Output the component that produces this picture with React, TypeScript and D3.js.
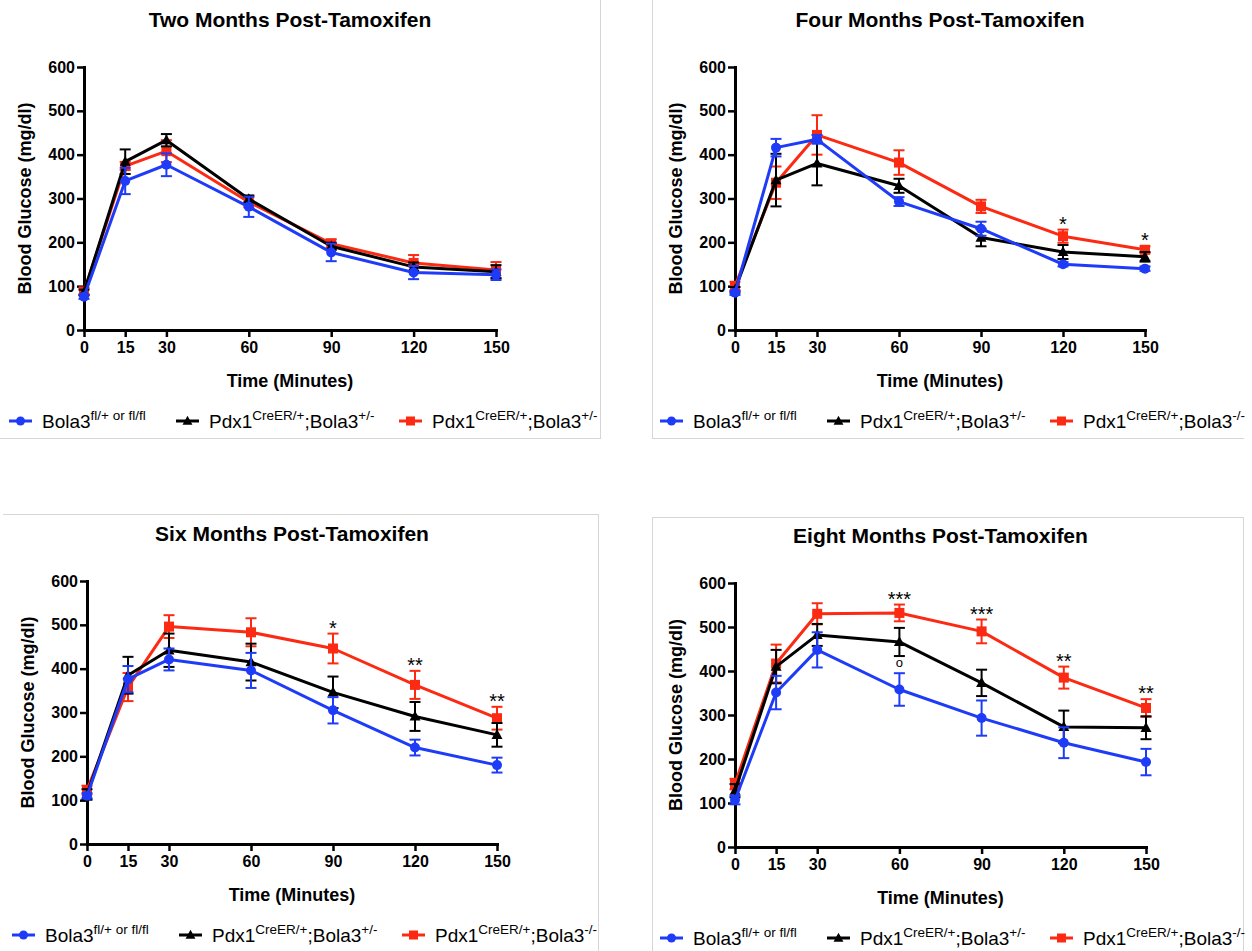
import React, { useEffect, useRef } from 'react';
import * as d3 from 'd3';

// Sampling times (minutes after glucose injection)
const minutes = [0, 15, 30, 60, 90, 120, 150];
const yTicks = [0, 100, 200, 300, 400, 500, 600];

// Two months post-tamoxifen: mean and SEM, mg/dl
const twoCtrl = [76, 340, 377, 281, 177, 131, 126];
const twoCtrlSem = [5, 30, 26, 23, 20, 15, 12];
const twoHet = [86, 384, 433, 299, 191, 144, 133];
const twoHetSem = [6, 28, 14, 8, 8, 10, 15];
const twoKo = [88, 374, 408, 292, 197, 153, 137];
const twoKoSem = [8, 9, 25, 12, 10, 18, 18];

// Four months post-tamoxifen
const fourCtrl = [85, 416, 435, 293, 231, 150, 140];
const fourCtrlSem = [5, 20, 10, 10, 16, 5, 5];
const fourHet = [92, 342, 380, 329, 211, 178, 167];
const fourHetSem = [6, 60, 50, 16, 20, 16, 11];
const fourKo = [100, 336, 445, 382, 282, 214, 183];
const fourKoSem = [10, 37, 45, 28, 15, 15, 8];

// Six months post-tamoxifen
const sixCtrl = [110, 376, 421, 396, 305, 220, 180];
const sixCtrlSem = [6, 30, 25, 40, 30, 18, 17];
const sixHet = [113, 385, 442, 415, 346, 291, 249];
const sixHetSem = [12, 42, 38, 42, 36, 33, 27];
const sixKo = [123, 358, 496, 483, 446, 363, 287];
const sixKoSem = [10, 32, 26, 32, 34, 32, 26];

// Eight months post-tamoxifen
const eightCtrl = [107, 351, 448, 358, 293, 237, 193];
const eightCtrlSem = [10, 38, 40, 37, 40, 35, 30];
const eightHet = [128, 410, 482, 466, 373, 273, 271];
const eightHetSem = [15, 38, 25, 32, 30, 37, 26];
const eightKo = [143, 417, 530, 532, 490, 385, 316];
const eightKoSem = [12, 43, 24, 19, 27, 25, 20];

// Significance marks (knockout vs control) and het-vs-control mark
const fourStars = [{ t: 120, label: '*' }, { t: 150, label: '*' }];
const sixStars = [{ t: 90, label: '*' }, { t: 120, label: '**' }, { t: 150, label: '**' }];
const eightStars = [
  { t: 60, label: '***' },
  { t: 90, label: '***' },
  { t: 120, label: '**' },
  { t: 150, label: '**' },
];
const eightHetMarks = [{ t: 60, label: 'o' }];

const titles = [
  'Two Months Post-Tamoxifen',
  'Four Months Post-Tamoxifen',
  'Six Months Post-Tamoxifen',
  'Eight Months Post-Tamoxifen',
];

const BLUE = '#1e3cf8';
const RED = '#fc2a12';
const BLACK = '#000000';
const FONT = "'Liberation Sans', Arial, Helvetica, sans-serif";

type Sup = { main: string; sup?: string }[];
const legendCtrl: Sup = [{ main: 'Bola3', sup: 'fl/+ or fl/fl' }];
const legendHet: Sup = [{ main: 'Pdx1', sup: 'CreER/+' }, { main: ';Bola3', sup: '+/-' }];
const legendKo: Sup = [{ main: 'Pdx1', sup: 'CreER/+' }, { main: ';Bola3', sup: '-/-' }];

type Series = { mean: number[]; sem: number[]; color: string; shape: string; legend: Sup };

const panels = [
  {
    title: titles[0],
    x0: 84, x1: 496, yTop: 67, yBot: 330,
    series: [
      { mean: twoKo, sem: twoKoSem, color: RED, shape: 'square', legend: legendHet },
      { mean: twoHet, sem: twoHetSem, color: BLACK, shape: 'triangle', legend: legendHet },
      { mean: twoCtrl, sem: twoCtrlSem, color: BLUE, shape: 'circle', legend: legendCtrl },
    ] as Series[],
    stars: [] as { t: number; label: string }[],
    hetMarks: [] as { t: number; label: string }[],
    border: [[600.5, 0, 600.5, 438.5], [0, 438.5, 601, 438.5]],
  },
  {
    title: titles[1],
    x0: 735, x1: 1145, yTop: 67, yBot: 330,
    series: [
      { mean: fourKo, sem: fourKoSem, color: RED, shape: 'square', legend: legendKo },
      { mean: fourHet, sem: fourHetSem, color: BLACK, shape: 'triangle', legend: legendHet },
      { mean: fourCtrl, sem: fourCtrlSem, color: BLUE, shape: 'circle', legend: legendCtrl },
    ] as Series[],
    stars: fourStars,
    hetMarks: [] as { t: number; label: string }[],
    border: [[652.5, 0, 652.5, 438.5], [652, 438.5, 1244, 438.5]],
  },
  {
    title: titles[2],
    x0: 87, x1: 497, yTop: 581, yBot: 844,
    series: [
      { mean: sixKo, sem: sixKoSem, color: RED, shape: 'square', legend: legendKo },
      { mean: sixHet, sem: sixHetSem, color: BLACK, shape: 'triangle', legend: legendHet },
      { mean: sixCtrl, sem: sixCtrlSem, color: BLUE, shape: 'circle', legend: legendCtrl },
    ] as Series[],
    stars: sixStars,
    hetMarks: [] as { t: number; label: string }[],
    border: [[3, 514.5, 598, 514.5], [598.5, 514, 598.5, 951]],
  },
  {
    title: titles[3],
    x0: 735, x1: 1146, yTop: 583, yBot: 847,
    series: [
      { mean: eightKo, sem: eightKoSem, color: RED, shape: 'square', legend: legendKo },
      { mean: eightHet, sem: eightHetSem, color: BLACK, shape: 'triangle', legend: legendHet },
      { mean: eightCtrl, sem: eightCtrlSem, color: BLUE, shape: 'circle', legend: legendCtrl },
    ] as Series[],
    stars: eightStars,
    hetMarks: eightHetMarks,
    border: [[652, 517.5, 1244, 517.5], [652.5, 517, 652.5, 951], [1243.5, 517, 1243.5, 951]],
  },
];

function drawMarker(g: d3.Selection<SVGGElement, unknown, null, undefined>, shape: string, x: number, y: number, color: string, s = 1) {
  if (shape === 'circle') {
    g.append('circle').attr('cx', x).attr('cy', y).attr('r', 5 * s).attr('fill', color);
  } else if (shape === 'square') {
    const h = 5 * s;
    g.append('rect').attr('x', x - h).attr('y', y - h).attr('width', 2 * h).attr('height', 2 * h).attr('fill', color);
  } else {
    const h = 5.5 * s;
    g.append('path')
      .attr('d', `M${x},${y - h * 1.05}L${x + h},${y + h * 0.75}L${x - h},${y + h * 0.75}Z`)
      .attr('fill', color);
  }
}

// Main text with raised superscripts; each run shifts back down before the next one
function writeRich(t: d3.Selection<SVGTextElement, unknown, null, undefined>, parts: Sup) {
  let back = 0;
  parts.forEach((p) => {
    const m = t.append('tspan').attr('font-size', 19).text(p.main);
    if (back) m.attr('dy', back);
    back = 0;
    if (p.sup) {
      t.append('tspan').attr('font-size', 13.5).attr('dy', -8).text(p.sup);
      back = 8;
    }
  });
}

export default function App() {
  const ref = useRef<SVGSVGElement | null>(null);

  useEffect(() => {
    const svg = d3.select(ref.current);
    svg.selectAll('*').remove();
    svg.append('rect').attr('width', 1252).attr('height', 951).attr('fill', '#fff');

    panels.forEach((p) => {
      const g = svg.append('g');
      const x = d3.scaleLinear().domain([0, 150]).range([p.x0, p.x1]);
      const y = d3.scaleLinear().domain([0, 600]).range([p.yBot, p.yTop]);
      const cx = (p.x0 + p.x1) / 2;

      // panel frame
      p.border.forEach((b) => {
        g.append('line').attr('x1', b[0]).attr('y1', b[1]).attr('x2', b[2]).attr('y2', b[3])
          .attr('stroke', '#d6d6d6').attr('stroke-width', 1);
      });

      // title
      g.append('text').attr('x', cx).attr('y', p.yTop - 40.5).attr('text-anchor', 'middle')
        .attr('font-family', FONT).attr('font-weight', 'bold').attr('font-size', 21).text(p.title);

      // axes
      const yAxis = d3.axisLeft(y).tickValues(yTicks).tickSize(7).tickSizeOuter(0).tickPadding(2);
      const xAxis = d3.axisBottom(x).tickValues(minutes).tickSize(7).tickSizeOuter(0).tickPadding(5);
      const ya = g.append('g').attr('transform', `translate(${p.x0},0)`).call(yAxis);
      const xa = g.append('g').attr('transform', `translate(0,${p.yBot})`).call(xAxis);
      [ya, xa].forEach((a) => {
        a.select('.domain').attr('stroke', '#000').attr('stroke-width', 3).attr('stroke-linecap', 'square');
        a.selectAll('.tick line').attr('stroke', '#000').attr('stroke-width', 2.5);
        a.selectAll('.tick text').attr('fill', '#000').attr('font-family', FONT)
          .attr('font-weight', 'bold').attr('font-size', 16);
      });

      // axis titles
      g.append('text').attr('x', cx).attr('y', p.yBot + 56.5).attr('text-anchor', 'middle')
        .attr('font-family', FONT).attr('font-weight', 'bold').attr('font-size', 18).text('Time (Minutes)');
      g.append('text')
        .attr('transform', `translate(${p.x0 - 53.5},${(p.yTop + p.yBot) / 2}) rotate(-90)`)
        .attr('text-anchor', 'middle').attr('font-family', FONT).attr('font-weight', 'bold')
        .attr('font-size', 18).text('Blood Glucose (mg/dl)');

      // data series
      const line = d3.line<number>().x((_, i) => x(minutes[i])).y((d) => y(d));
      p.series.forEach((s) => {
        const sg = g.append('g');
        sg.append('path').attr('d', line(s.mean)).attr('fill', 'none').attr('stroke', s.color)
          .attr('stroke-width', 3).attr('stroke-linejoin', 'round');
        s.mean.forEach((m, i) => {
          const xx = x(minutes[i]);
          const hi = y(m + s.sem[i]);
          const lo = y(m - s.sem[i]);
          sg.append('line').attr('x1', xx).attr('x2', xx).attr('y1', hi).attr('y2', lo)
            .attr('stroke', s.color).attr('stroke-width', 2);
          [hi, lo].forEach((yy) => {
            sg.append('line').attr('x1', xx - 5.5).attr('x2', xx + 5.5).attr('y1', yy).attr('y2', yy)
              .attr('stroke', s.color).attr('stroke-width', 2);
          });
          drawMarker(sg, s.shape, xx, y(m), s.color);
        });
      });

      // significance marks above the knockout series
      const ko = p.series[0];
      p.stars.forEach((st) => {
        const i = minutes.indexOf(st.t);
        g.append('text').attr('x', x(st.t)).attr('y', y(ko.mean[i] + ko.sem[i]) + 1)
          .attr('text-anchor', 'middle').attr('font-family', FONT).attr('font-size', 20).text(st.label);
      });
      // het-vs-control marks below the het series
      const het = p.series[1];
      p.hetMarks.forEach((st) => {
        const i = minutes.indexOf(st.t);
        g.append('text').attr('x', x(st.t)).attr('y', y(het.mean[i] - het.sem[i]) + 11)
          .attr('text-anchor', 'middle').attr('font-family', FONT).attr('font-size', 13).text(st.label);
      });

      // legend: control, het, knockout from left to right
      const legendOrder = [p.series[2], p.series[1], p.series[0]];
      const offsets = [-75, 92, 315];
      const ly = p.yBot + 91;
      legendOrder.forEach((s, k) => {
        const lx = p.x0 + offsets[k];
        g.append('line').attr('x1', lx).attr('x2', lx + 23).attr('y1', ly).attr('y2', ly)
          .attr('stroke', s.color).attr('stroke-width', 3);
        drawMarker(g, s.shape, lx + 11.5, ly, s.color, 0.9);
        const t = g.append('text').attr('x', lx + 33).attr('y', ly + 7).attr('font-family', FONT).attr('fill', '#000');
        writeRich(t, s.legend);
      });
    });
  }, []);

  return (
    <div style={{ position: 'absolute', left: 0, top: 0 }}>
      <svg ref={ref} width={1252} height={951} style={{ display: 'block' }} />
    </div>
  );
}
